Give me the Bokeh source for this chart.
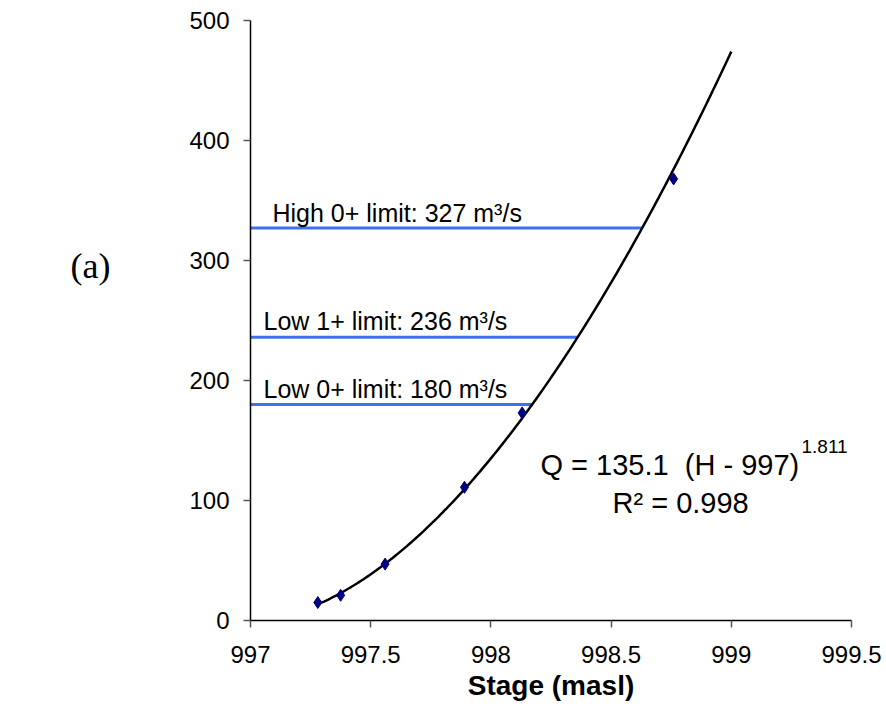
import numpy as np
from bokeh.plotting import figure
from bokeh.layouts import row
from bokeh.models import FixedTicker, Range1d
from bokeh.core.properties import value
from bokeh.embed import file_html
from bokeh.resources import INLINE

# ---- data ----
stage_obs = [997.28, 997.375, 997.56, 997.89, 998.13, 998.76]
discharge_obs = [15, 21, 47, 111, 173, 368]

# rating-curve fit shown on the chart: Q = 135.1 (H - 997)^1.811
fit_coef = 135.1
fit_base = 997.0
fit_exp = 1.811
fit_stage_start = 997.28
fit_stage_end = 999.0

limit_values = [327, 236, 180]
limit_labels = ["High 0+ limit: 327 m³/s", "Low 1+ limit: 236 m³/s", "Low 0+ limit: 180 m³/s"]
limit_end_stage = [998.63, 998.36, 998.17]

x_ticks = [997, 997.5, 998, 998.5, 999, 999.5]
x_tick_labels = ["997", "997.5", "998", "998.5", "999", "999.5"]
y_ticks = [0, 100, 200, 300, 400, 500]

equation_text = "Q = 135.1\u00a0\u00a0(H - 997)"
equation_exp_text = "1.811"
r2_text = "R² = 0.998"
panel_tag = "(a)"

# ---- layout (pixels) ----
TAG_W = 150
L, R, T, B = 100, 35, 20, 91
FW, FH = 601, 600
X0, X1 = 997.0, 999.5
Y0, Y1 = 0, 500
FONT = "Liberation Sans"


def dx(px):
    return X0 + (px - TAG_W - L) * (X1 - X0) / FW


def dy(py):
    return Y0 + (T + FH - py) * (Y1 - Y0) / FH


# left strip holding the panel tag
tag = figure(frame_width=TAG_W, frame_height=T + FH + B, output_backend="svg",
             toolbar_location=None, x_range=Range1d(0, TAG_W), y_range=Range1d(T + FH + B, 0),
             x_axis_type=None, y_axis_type=None,
             min_border_left=0, min_border_right=0, min_border_top=0, min_border_bottom=0)
tag.outline_line_color = None
tag.xgrid.visible = False
tag.ygrid.visible = False
tag.text(x=[70], y=[245], text=[panel_tag], text_font=value("Liberation Serif"),
         text_font_size="36px", text_color="black", text_baseline="alphabetic", text_align="left")

p = figure(frame_width=FW, frame_height=FH, output_backend="svg", toolbar_location=None,
           x_range=Range1d(X0, X1), y_range=Range1d(Y0, Y1),
           min_border_left=L, min_border_right=R, min_border_top=T, min_border_bottom=B,
           background_fill_color="white", border_fill_color="white")
p.outline_line_color = None
p.xgrid.visible = False
p.ygrid.visible = False

for ax in (p.xaxis[0], p.yaxis[0]):
    ax.axis_line_color = "black"
    ax.axis_line_width = 1.5
    ax.major_tick_out = 7
    ax.major_tick_in = 0
    ax.major_tick_line_color = "#555555"
    ax.major_tick_line_width = 1.5
    ax.minor_tick_line_color = None
    ax.major_label_text_font = FONT
    ax.major_label_text_font_size = "24px"
    ax.major_label_text_color = "black"

p.xaxis.ticker = FixedTicker(ticks=x_ticks)
p.xaxis.major_label_overrides = {t: s for t, s in zip(x_ticks, x_tick_labels)}
p.xaxis.major_label_standoff = 18
p.xaxis.axis_label = "Stage (masl)"
p.xaxis.axis_label_text_font = FONT
p.xaxis.axis_label_text_font_style = "bold"
p.xaxis.axis_label_text_font_size = "28px"
p.xaxis.axis_label_text_color = "black"
p.xaxis.axis_label_standoff = 4

p.yaxis.ticker = FixedTicker(ticks=y_ticks)
p.yaxis.major_label_standoff = 14

# limit lines
for v, e in zip(limit_values, limit_end_stage):
    p.line([X0, e], [v, v], line_color="#4070F0", line_width=3)

# fitted curve
H = np.linspace(fit_stage_start, fit_stage_end, 200)
Q = fit_coef * (H - fit_base) ** fit_exp
p.line(H, Q, line_color="black", line_width=2.5)

# observations
p.scatter(stage_obs, discharge_obs, marker="diamond", size=12,
          fill_color="#000080", line_color="#000080")

# limit labels (left edge px, lift above line px)
label_left_px = [272, 263, 263]
label_lift_px = [15, 16, 16]
p.text(x=[dx(TAG_W + lx - 150) for lx in label_left_px],
       y=limit_values, y_offset=[-lift for lift in label_lift_px], text=limit_labels,
       text_font=value(FONT), text_font_size="25px", text_color="black",
       text_baseline="alphabetic", text_align="left")

# equation
p.text(x=[dx(540)], y=[dy(464)], text=[equation_text], text_font=value(FONT),
       text_font_size="29px", text_color="black", text_baseline="alphabetic", text_align="left")
p.text(x=[dx(801)], y=[dy(446)], text=[equation_exp_text], text_font=value(FONT),
       text_font_size="19px", text_color="black", text_baseline="alphabetic", text_align="left")
p.text(x=[dx(612)], y=[dy(502)], text=[r2_text], text_font=value(FONT),
       text_font_size="29px", text_color="black", text_baseline="alphabetic", text_align="left")

layout = row(tag, p, spacing=0)
open("out.html", "w").write(file_html(layout, INLINE))
